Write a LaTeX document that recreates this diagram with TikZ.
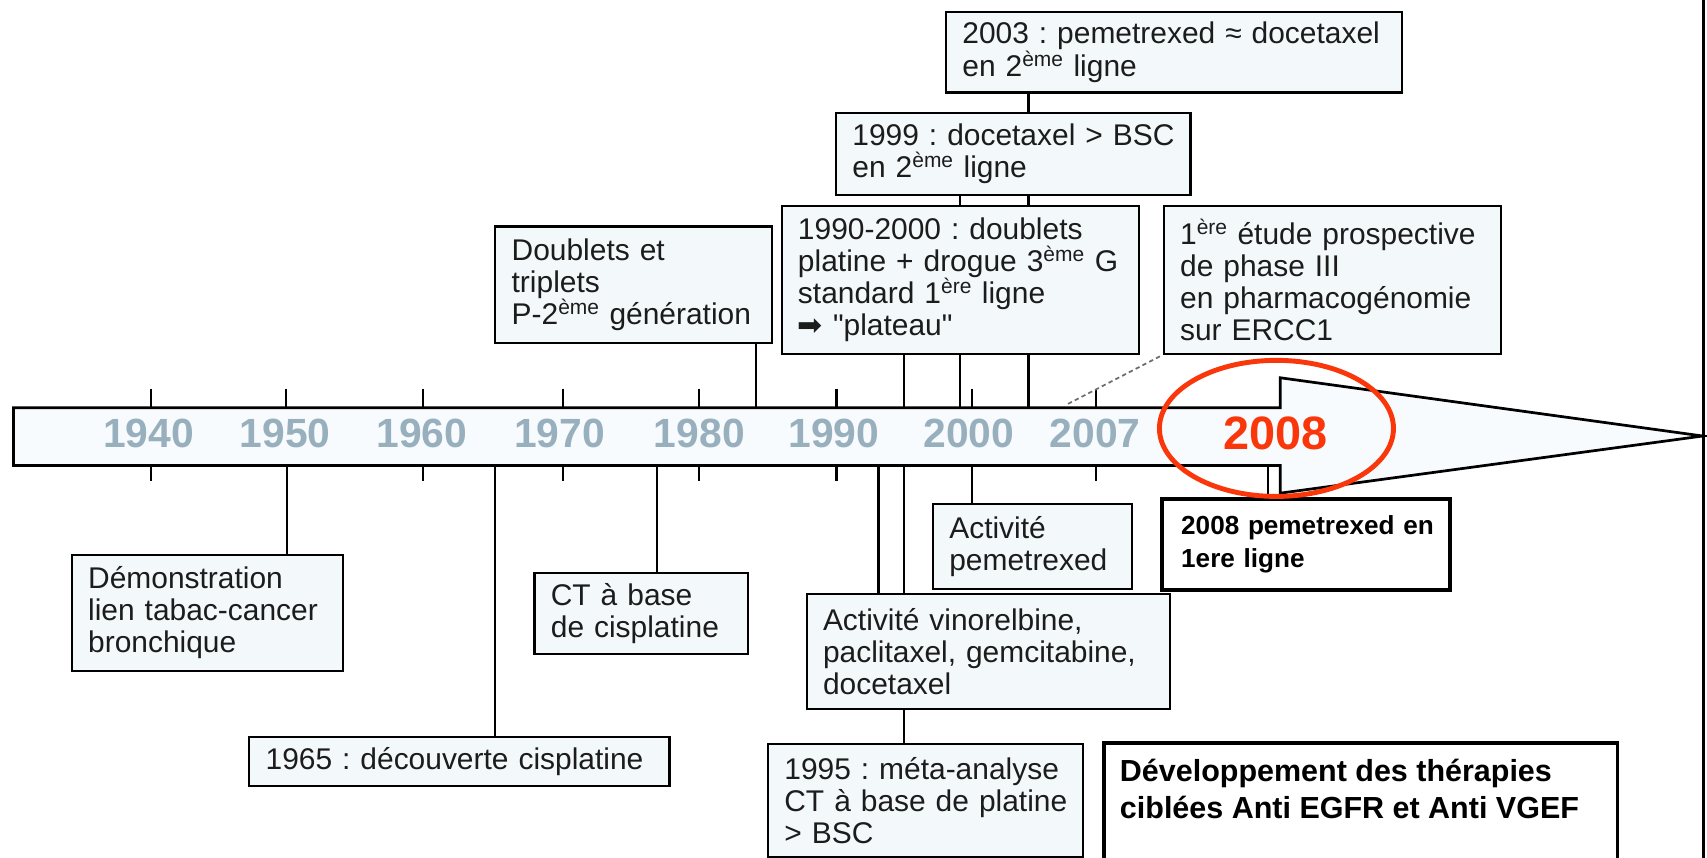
\documentclass[tikz,border=0pt]{standalone}
\usepackage{fontspec}
\setmainfont{Liberation Sans}
\newfontfamily\dejavu{DejaVu Sans}
\usetikzlibrary{backgrounds}
\frenchspacing
\hyphenpenalty=10000
\exhyphenpenalty=10000
\hbadness=10000
\hfuzz=20pt
\definecolor{boxfill}{RGB}{243,249,251}
\definecolor{barfill}{RGB}{248,251,253}
\definecolor{yearcol}{RGB}{152,176,190}
\definecolor{redc}{RGB}{250,55,10}
\definecolor{txt}{RGB}{28,28,28}
\definecolor{dashc}{RGB}{110,110,110}
\newcommand\evfont{\fontsize{27.5}{29.5}\selectfont}
\newcommand\boldfontA{\fontsize{24}{30.5}\selectfont\bfseries}
\newcommand\boldfontB{\fontsize{28}{34}\selectfont\bfseries}
\begin{document}
\begin{tikzpicture}[x=1pt,y=-1pt,
  evbox/.style={draw=black,line width=2pt,fill=boxfill,text=txt,align=left,
    inner xsep=15pt,inner ysep=0pt,font=\evfont},
  strongbox/.style={draw=black,line width=3.5pt,fill=white,text=black,align=left,inner ysep=0pt},
  conn/.style={line width=2pt,black},
  tickmark/.style={line width=2pt,black},
  dashconn/.style={line width=1.6pt,dashc,dash pattern=on 4pt off 3pt},
  year/.style={text=yearcol,font=\fontsize{37.5}{37.5}\selectfont\bfseries,inner sep=0pt},
]
\useasboundingbox (0,0) rectangle (1568,788);

% ---------- boxes above the timeline ----------
\node[evbox,text width=389pt,minimum height=74pt] (b2003) at (1078.5,48)
  {2003~:~pemetrexed~≈~docetaxel\\en 2\textsuperscript{ème} ligne};
\node[evbox,text width=295.5pt,minimum height=75.5pt] (b1999) at (930.75,141.25)
  {1999~:~docetaxel~>~BSC\\en 2\textsuperscript{ème} ligne};
\node[evbox,text width=298pt,minimum height=136pt] (b9000) at (882,257)
  {1990-2000~:~doublets\\platine~+~drogue~3\textsuperscript{ème}~G\\standard~1\textsuperscript{ère}~ligne\\{\dejavu ➡} \textquotedbl plateau\textquotedbl};
\node[evbox,text width=224pt,minimum height=107pt] (bdoub) at (582,261.5)
  {Doublets et\\triplets\\P-2\textsuperscript{ème}~génération};
\node[evbox,text width=280pt,minimum height=136pt] (bercc) at (1224,257)
  {1\textsuperscript{ère}~étude~prospective\\de phase III\\en~pharmacogénomie\\sur ERCC1};

% ---------- boxes below the timeline ----------
\node[evbox,text width=219pt,minimum height=106pt] (bdemo) at (190.5,563)
  {Démonstration\\lien~tabac-cancer\\bronchique};
\node[evbox,text width=356pt,minimum height=45pt] (b1965) at (422,699.5)
  {1965~:~découverte~cisplatine};
\node[evbox,text width=166pt,minimum height=75pt] (bct) at (589,563.5)
  {CT~à~base\\de~cisplatine};
\node[evbox,text width=303.5pt,minimum height=105.4pt] (bvino) at (907.75,598.3)
  {Activité~vinorelbine,\\paclitaxel,~gemcitabine,\\docetaxel};
\node[evbox,text width=259.5pt,minimum height=103.5pt] (b1995) at (850.25,735.25)
  {1995~:~méta-analyse\\CT~à~base~de~platine\\>~BSC};
\node[evbox,text width=152.5pt,minimum height=77.7pt] (bpem) at (948.25,501.85)
  {Activité\\pemetrexed};
\node[strongbox,font=\boldfontA,inner xsep=18pt,text width=228.6pt,minimum height=83.6pt] (b2008) at (1199.3,500.2)
  {2008~pemetrexed~en\\1ere~ligne};
\node[strongbox,font=\boldfontB,inner xsep=15pt,minimum height=130pt,anchor=north west] (bdev) at (1012,681)
  {\parbox[t][100pt][t]{442pt}{\raggedright Développement~des~thérapies\\ciblées~Anti~EGFR~et~Anti~VGEF}};

% ---------- year labels ----------
\node[year] (y1940) at (136.5,398.5) {1940};
\node[year] (y1950) at (262,398.5) {1950};
\node[year] (y1960) at (387.5,398.5) {1960};
\node[year] (y1970) at (514,398.5) {1970};
\node[year] (y1980) at (642.4,398.5) {1980};
\node[year] (y1990) at (766,398.5) {1990};
\node[year] (y2000) at (890,398.5) {2000};
\node[year] (y2007) at (1006,398.5) {2007};

% ---------- highlighted 2008 ----------
\draw[redc,line width=4.5pt] (1172.5,393.5) ellipse [x radius=107.5, y radius=62.5];
\node[text=redc,font=\fontsize{43}{43}\selectfont\bfseries,inner sep=0pt] (y2008) at (1171.5,398) {2008};

% ---------- attachment points on the timeline ----------
\coordinate (ctdoub) at (694.3,374.5);
\coordinate (ct9000) at (830.5,374.5);
\coordinate (ct1999) at (881.5,374.5);
\coordinate (ct2003) at (944.8,374.5);
\coordinate (ctercc) at (981,371);
\coordinate (cbdemo) at (263.5,427.5);
\coordinate (cb1965) at (455,427.5);
\coordinate (cbct) at (603.5,427.5);
\coordinate (cbvinoA) at (807,427.5);
\coordinate (cbvinoB) at (830.5,427.5);
\coordinate (cbpem) at (893,427.5);
\coordinate (cb2008) at (1165,427.5);

\begin{scope}[on background layer]
  % timeline arrow
  \draw[line width=2.5pt,fill=barfill,line join=miter]
    (12.5,374.5) -- (1176,374.5) -- (1176,347) -- (1564,400.5)
    -- (1176,453) -- (1176,427.5) -- (12.5,427.5) -- cycle;
  % frame line on the right
  \draw[line width=2.5pt] (1564.5,0) -- (1564.5,788);
  % ticks above
  \foreach \tx in {138.6,263,388.5,517,642.4,768.4,892.5,1007}
    \draw[tickmark] (\tx,357) -- (\tx,374.5);
  % ticks below
  \foreach \tx in {138.6,388.5,517,642.4,768.4,1007}
    \draw[tickmark] (\tx,427.5) -- (\tx,442);
  % connectors above
  \draw[conn] (ctdoub) -- (ctdoub |- bdoub.south);
  \draw[conn] (ct9000) -- (ct9000 |- b9000.south);
  \draw[conn] (ct1999) -- (ct1999 |- b1999.south);
  \draw[conn] (ct2003) -- (ct2003 |- b2003.south);
  \draw[dashconn] (ctercc) -- (bercc.south west);
  % connectors below
  \draw[conn] (cbdemo) -- (cbdemo |- bdemo.north);
  \draw[conn] (cb1965) -- (cb1965 |- b1965.north);
  \draw[conn] (cbct) -- (cbct |- bct.north);
  \draw[conn] (cbvinoA) -- (cbvinoA |- bvino.north);
  \draw[conn] (cbvinoB) -- (cbvinoB |- b1995.north);
  \draw[conn] (cbpem) -- (cbpem |- bpem.north);
  \draw[conn] (cb2008) -- (cb2008 |- b2008.north);
\end{scope}
\end{tikzpicture}
\end{document}
